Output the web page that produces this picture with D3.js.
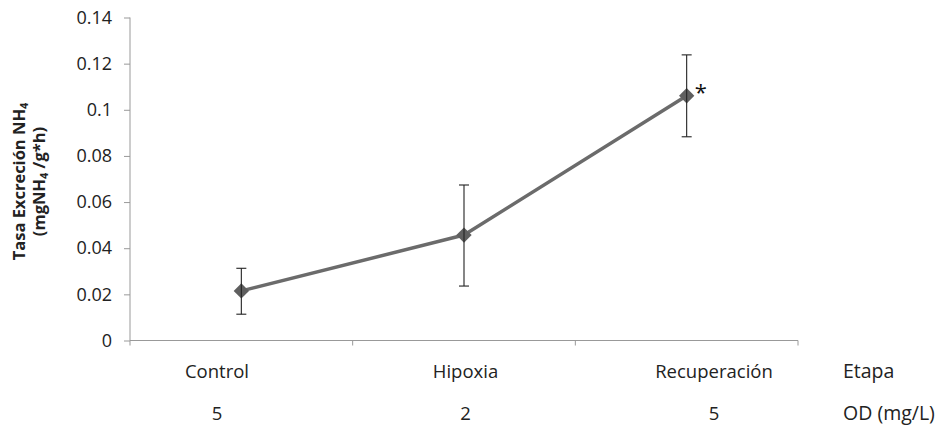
<!DOCTYPE html>
<html><head><meta charset="utf-8">
<script src="https://cdn.jsdelivr.net/npm/d3@7"></script>
<style>body{margin:0;background:#fff}svg{display:block}text{font-family:"Open Sans",sans-serif}</style>
</head><body>
<svg id="c" width="951" height="427"></svg>
<script>
const categories = ["Control", "Hipoxia", "Recuperación"];
const odValues = ["5", "2", "5"];
const means = [0.0215, 0.0457, 0.1061];
const errLow = [0.0114, 0.0236, 0.0883];
const errHigh = [0.0313, 0.0674, 0.1238];
const yTicks = [0, 0.02, 0.04, 0.06, 0.08, 0.1, 0.12, 0.14];
const significance = ["", "", "*"];
const rowTitles = ["Etapa", "OD (mg/L)"];

const svg = d3.select("#c");
const x = d3.scaleBand().domain(categories).range([130, 798]);
const y = d3.scaleLinear().domain([0, 0.14]).range([340.5, 17.5]);
const cx = d => x(d) + x.bandwidth() / 2;
// label columns (table under the axis)
const xl = d3.scalePoint().domain(categories).range([217, 714]);

// y axis
const ya = svg.append("g").attr("transform", "translate(130,0)")
  .call(d3.axisLeft(y).tickValues(yTicks).tickSize(6).tickPadding(12)
    .tickFormat(d => d === 0 ? "0" : String(+d.toFixed(2))));
ya.select(".domain").attr("stroke", "#999").attr("d", "M0,17.5V340.5");
ya.selectAll(".tick line").attr("stroke", "#999");
ya.selectAll(".tick text").attr("fill", "#222").style("font-size", "18px");

// x axis
const xa = svg.append("g").attr("transform", "translate(0,340.5)")
  .call(d3.axisBottom(x).tickSize(0).tickFormat(""));
xa.select(".domain").attr("stroke", "#999").attr("d", "M130,0H798");
xa.selectAll(".tick").remove();
const bounds = [130].concat(categories.map(c => x(c) + x.bandwidth()));
xa.selectAll("line.b").data(bounds).enter().append("line")
  .attr("x1", d => d).attr("x2", d => d).attr("y1", 0).attr("y2", 5).attr("stroke", "#999");

// category labels
svg.selectAll("text.cat").data(categories).enter().append("text")
  .attr("x", d => xl(d)).attr("y", 378).attr("text-anchor", "middle")
  .style("font-size", "18.5px").attr("fill", "#222").text(d => d);
svg.selectAll("text.od").data(categories).enter().append("text")
  .attr("x", d => xl(d)).attr("y", 420).attr("text-anchor", "middle")
  .style("font-size", "18.5px").attr("fill", "#222").text((d, i) => odValues[i]);
svg.selectAll("text.rt").data(rowTitles).enter().append("text")
  .attr("x", 843).attr("y", (d, i) => i ? 420 : 378)
  .style("font-size", "19.5px").attr("fill", "#222").text(d => d);

// y title
const yt = svg.append("text").attr("transform", "translate(0,181.5) rotate(-90)")
  .attr("text-anchor", "middle").style("font-size", "16.5px").style("font-weight", "bold").attr("fill", "#222");
const l1 = yt.append("tspan").attr("x", 0).attr("y", 25);
l1.append("tspan").text("Tasa Excreción NH");
l1.append("tspan").attr("dy", 3).style("font-size", "11px").text("4");
const l2 = yt.append("tspan").attr("x", 0).attr("y", 45);
l2.append("tspan").text("(mgNH");
l2.append("tspan").attr("dy", 3).style("font-size", "11px").text("4");
l2.append("tspan").attr("dy", -3).text(" /g*h)");

// line
const line = d3.line().x((d, i) => cx(categories[i])).y(d => y(d));
svg.append("path").datum(means).attr("d", line).attr("fill", "none")
  .attr("stroke", "#6b6b6b").attr("stroke-width", 3.5).attr("stroke-linejoin", "round");

// markers
svg.selectAll("path.m").data(means).enter().append("path")
  .attr("d", d3.symbol().type(d3.symbolDiamond2).size(150))
  .attr("transform", (d, i) => `translate(${cx(categories[i])},${y(d)})`)
  .attr("fill", "#5f5f5f");

// error bars
const eb = svg.append("g").attr("stroke", "#222").attr("stroke-width", 1.1);
categories.forEach((c, i) => {
  const xc = cx(c);
  eb.append("line").attr("x1", xc).attr("x2", xc).attr("y1", y(errLow[i])).attr("y2", y(errHigh[i]));
  eb.append("line").attr("x1", xc - 5).attr("x2", xc + 5).attr("y1", y(errLow[i])).attr("y2", y(errLow[i]));
  eb.append("line").attr("x1", xc - 5).attr("x2", xc + 5).attr("y1", y(errHigh[i])).attr("y2", y(errHigh[i]));
});

// significance
svg.selectAll("text.sig").data(significance).enter().append("text")
  .attr("x", (d, i) => cx(categories[i]) + 8).attr("y", (d, i) => y(means[i]) + 4)
  .style("font-size", "22px").attr("fill", "#111").text(d => d);
</script>
</body></html>
